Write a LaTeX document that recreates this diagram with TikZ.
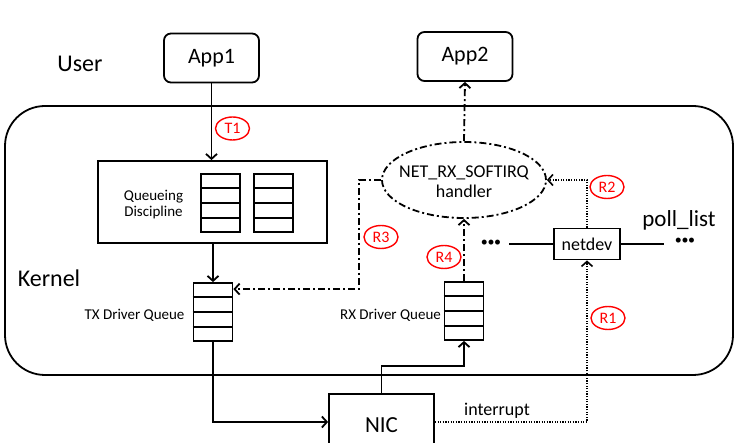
\documentclass[tikz,border=0pt]{standalone}
\usepackage{fontspec}
\setmainfont{Carlito}
\usetikzlibrary{arrows.meta,shapes.geometric,calc}
\newcommand{\fs}[1]{\fontsize{#1}{#1}\selectfont}
\begin{document}
\begin{tikzpicture}[x=1pt,y=-1pt,
  solidline/.style={line width=1.8pt},
  tip/.style={-{Straight Barb[length=5pt,width=11pt]}},
  appbox/.style={draw,line width=1.8pt,rounded corners=7pt,minimum width=95pt,minimum height=49pt,inner sep=0pt,font=\fs{22}},
  plainbox/.style={draw,line width=1.8pt,inner sep=0pt},
  queue/.style={draw,line width=1.8pt,minimum width=39pt,minimum height=58pt,inner sep=0pt},
  qline/.style={line width=1.8pt},
  redlbl/.style={draw=red,text=red,ellipse,line width=1.4pt,minimum width=34pt,minimum height=23pt,inner sep=0pt,font=\fs{16}},
  dashdot/.style={line width=1.8pt,dash pattern=on 7pt off 3pt on 2pt off 3pt},
  dotline/.style={line width=1.6pt,dash pattern=on 1.2pt off 1.4pt},
  txt/.style={inner sep=0pt}
]
\useasboundingbox (0,0) rectangle (742,443);
\clip (0,0) rectangle (742,443);
\fill[white] (0,0) rectangle (742,443);

% kernel area
\node[draw,line width=1.8pt,rounded corners=40pt,minimum width=728pt,minimum height=269pt] (kern) at (369,240.5) {};

% texts
\node[txt,font=\fs{24}] (user) at (80,64) {User};
\node[txt,font=\fs{24}] (kernel) at (49,278) {Kernel};
\node[txt,font=\fs{23}] (poll) at (679,220) {poll\_list};

% apps
\node[appbox] (app1) at (211.5,58) {App1};
\node[appbox] (app2) at (465,56.5) {App2};

% qdisc
\node[plainbox,minimum width=229pt,minimum height=82pt] (qdisc) at (212.5,202) {};
\node[txt,font=\fs{15},align=center] (qdtext) at (153.5,205) {Queueing\\[1pt]Discipline};
\node[queue] (q1) at (220.5,203) {};
\node[queue] (q2) at (273.5,203) {};

% driver queues
\node[queue] (txq) at (213,312) {};
\node[queue] (rxq) at (464,311) {};
\node[txt,font=\fs{15}] (txtext) at (134.5,315) {TX Driver Queue};
\node[txt,font=\fs{15}] (rxtext) at (390.5,315) {RX Driver Queue};

\foreach \q in {q1,q2,txq,rxq}
  \foreach \i in {1,2,3}
    \draw[qline] ($(\q.north west)!\i/4!(\q.south west)$) -- ($(\q.north east)!\i/4!(\q.south east)$);

% softirq ellipse
\node[draw,ellipse,dashdot,minimum width=164pt,minimum height=76pt,inner sep=0pt] (soft) at (464,180) {};
\node[txt,align=center,font=\fs{18}] (softtext) at (464,182) {NET\_RX\_SOFTIRQ\\[2pt]handler};

% netdev and poll list
\node[plainbox,minimum width=66pt,minimum height=31pt,font=\fs{18}] (netdev) at (587,244) {netdev};
\coordinate (pl1) at (509,244);
\coordinate (pl2) at (664,244);
\draw[solidline] (netdev.west) -- (pl1);
\draw[solidline] (netdev.east) -- (pl2);
\node[txt,font=\fs{14}] (dots1) at (491,243) {\textbullet\kern-0.3pt\textbullet\kern-0.3pt\textbullet};
\node[txt,font=\fs{14}] (dots2) at (685,241) {\textbullet\kern-0.3pt\textbullet\kern-0.3pt\textbullet};

% NIC
\node[plainbox,minimum width=105pt,minimum height=56pt] (nic) at (381.5,422) {};
\node[txt,font=\fs{23}] (nictext) at (381.5,425) {NIC};
\node[txt,font=\fs{18}] (intr) at (497,411) {interrupt};

% connectors
\draw[solidline,tip] (app1.south) -- (qdisc.north -| app1.south);
\draw[solidline,tip] (qdisc.south -| txq.north) -- (txq.north);
\draw[solidline,tip] (txq.south) |- (nic.west);
\draw[solidline,tip] (nic.north) -- ++(0,-27) -| (rxq.south);
\draw[dashdot,tip] (rxq.north) -- (soft.south);
\draw[dashdot,tip] (soft.north) -- (app2.south);
\coordinate (r3end) at ($(txq.north east)+(0,7)$);
\draw[dashdot,tip] (soft.west) -- ++(-22,0) |- (r3end);
\draw[dotline,tip] (netdev.north) |- (soft.east);
\draw[dotline,tip] (nic.east) -| (netdev.south);

% red labels
\node[redlbl] (t1) at (232.5,128.5) {T1};
\node[redlbl] (r1) at (608,318) {R1};
\node[redlbl] (r2) at (607,187) {R2};
\node[redlbl] (r3) at (381,237) {R3};
\node[redlbl] (r4) at (444,257) {R4};
\end{tikzpicture}
\end{document}
